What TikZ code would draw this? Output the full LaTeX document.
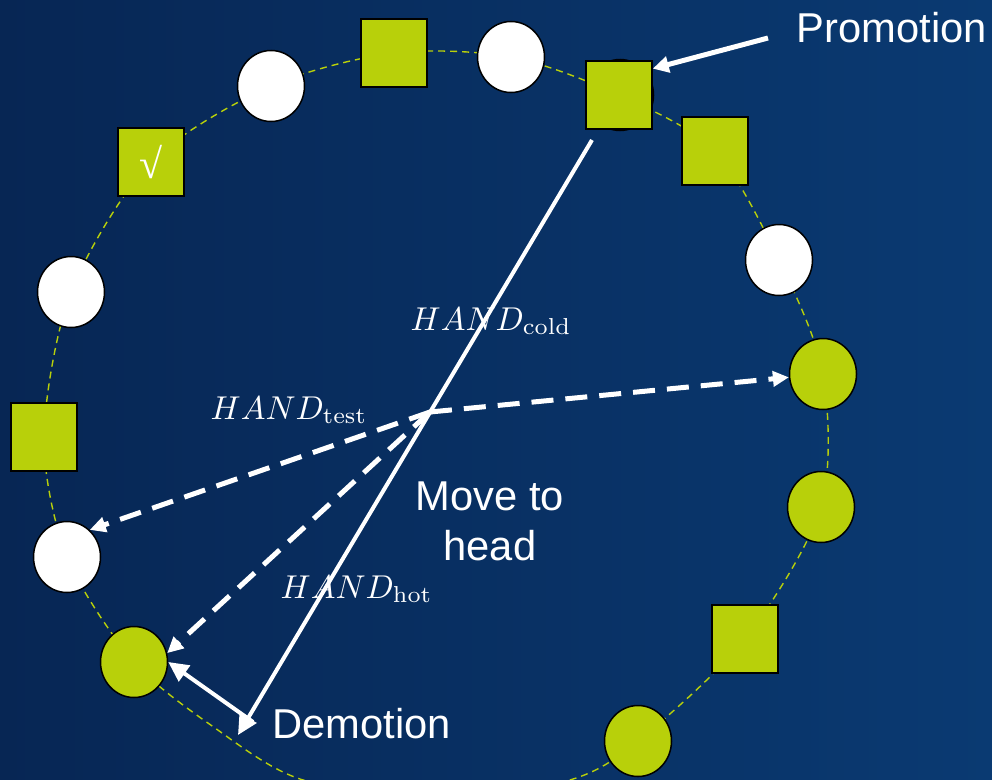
\documentclass[tikz,border=0pt]{standalone}
\usepackage[no-math]{fontspec}
\setmainfont{Liberation Sans}
\newfontfamily\seriffont{Liberation Serif}
\usetikzlibrary{shapes.geometric,arrows.meta}
\definecolor{lime}{RGB}{184,208,10}
\definecolor{bgA}{RGB}{7,38,84}
\definecolor{bgB}{RGB}{10,58,114}
\tikzset{
 ring/.style={draw=lime, line width=1.4pt, dash pattern=on 7pt off 5pt},
 wc/.style={ellipse, draw=black, line width=1.5pt, fill=white, minimum width=67pt, minimum height=71pt, inner sep=0pt},
 gc/.style={wc, fill=lime},
 gs/.style={rectangle, draw=black, line width=1.5pt, fill=lime, minimum width=66pt, minimum height=68pt, inner sep=0pt},
 solidarrow/.style={draw=white, line width=4pt, -{Triangle[length=20pt,width=19pt]}},
 promarrow/.style={draw=white, line width=5pt, -{Triangle[length=16pt,width=16pt]}},
 dasharrow/.style={draw=white, line width=5pt, dash pattern=on 22pt off 12pt, -{Triangle[length=16pt,width=15pt]}},
 lbl/.style={text=white, font=\fontsize{41.7}{50}\selectfont, inner sep=0pt},
 mlbl/.style={text=white, scale=3.3, inner sep=0pt, anchor=base west},
}
\begin{document}
\begin{tikzpicture}[x=1pt,y=-1pt]
\useasboundingbox (0,0) rectangle (992,779);
\shade[left color=bgA, right color=bgB] (0,0) rectangle (992,779);
% dashed ring
\draw[ring] plot[smooth cycle] coordinates {(44,437) (71,292) (151,162) (271,86) (394,53) (511,57) (619,95) (715,151) (779,260) (823,374) (821,507) (745,639) (638,741) (570,780) (437,802) (300,779) (215,728) (134,662) (67,557)};
% elements
\node[gs, text=white, font=\seriffont\fontsize{42}{44}\selectfont] (n1) at (151,162) {√};
\node[wc] (n2) at (271,86) {};
\node[gs] (n3) at (394,53) {};
\node[wc] (n4) at (511,57) {};
\node[wc] (n5h) at (620,95) {};
\node[gs] (n5) at (619,95) {};
\node[gs] (n6) at (715,151) {};
\node[wc] (n7) at (779,260) {};
\node[gc] (n8) at (823,374) {};
\node[gc] (n9) at (821,507) {};
\node[gs] (n10) at (745,639) {};
\node[gc] (n11) at (638,741) {};
\node[gc] (n12) at (134,662) {};
\node[wc] (n13) at (67,557) {};
\node[gs] (n14) at (44,437) {};
\node[wc] (n15) at (71,292) {};
% arrow points
\coordinate (P) at (592,140);
\coordinate (D) at (238,735);
\coordinate (H) at (430,412);
\coordinate (D2) at (253,722);
\coordinate (PR) at (768,38);
\draw[dasharrow] (H) -- (n8);
\draw[dasharrow] (H) -- (n13.50);
\draw[dasharrow] (H) -- (n12.15);
\draw[solidarrow] (P) -- (D);
\draw[solidarrow] (D2) -- (n12.east);
\draw[promarrow] (PR) -- (n5.38);
% labels
\node[lbl, anchor=base] (prom) at (892,42) {Promotion};
\node[lbl, anchor=base west] (dem) at (272,738) {Demotion};
\node[lbl, anchor=base] (mv1) at (490,510) {Move to};
\node[lbl, anchor=base] (mv2) at (490,560) {head};
\node[mlbl] (hc) at (410,330) {$HAND_{\mathrm{cold}}$};
\node[mlbl] (ht) at (210,419) {$HAND_{\mathrm{test}}$};
\node[mlbl] (hh) at (280,598) {$HAND_{\mathrm{hot}}$};
\end{tikzpicture}
\end{document}
